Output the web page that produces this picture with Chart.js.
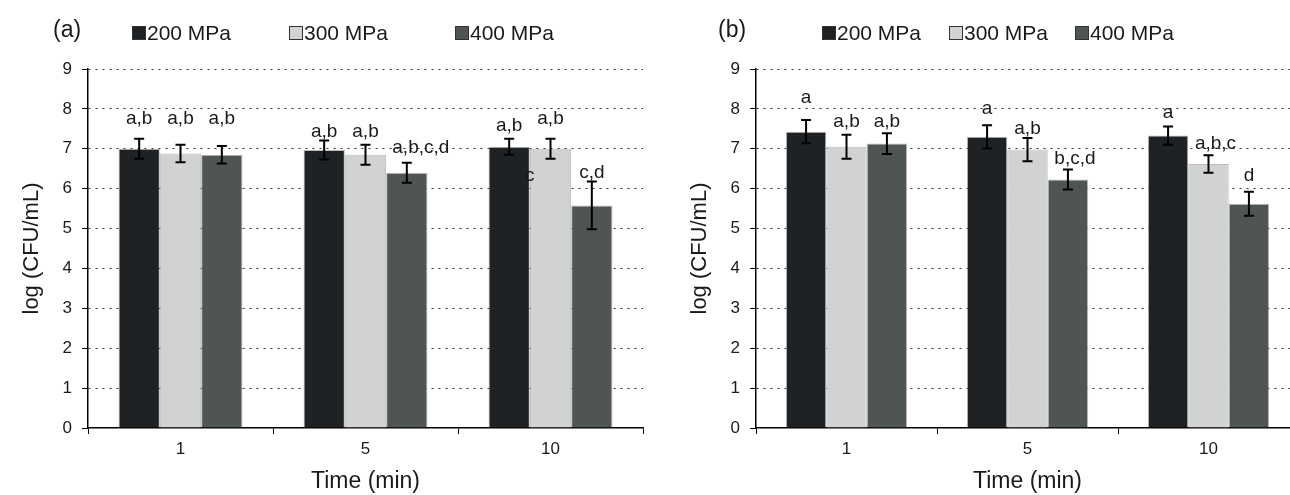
<!DOCTYPE html>
<html>
<head>
<meta charset="utf-8">
<script src="https://cdn.jsdelivr.net/npm/chart.js@4.4.0/dist/chart.umd.min.js"></script>
<style>
html, body { margin: 0; padding: 0; background: #fff; overflow: hidden; }
body { width: 1290px; height: 495px; position: relative; }
canvas { position: absolute; top: 0; }
#chartA { left: 0; }
#chartB { left: 645px; }
</style>
</head>
<body>
<canvas id="chartA" width="645" height="495"></canvas>
<canvas id="chartB" width="660" height="495"></canvas>
<script>
// Categories
const times = ['1', '5', '10'];
const pressures = ['200 MPa', '300 MPa', '400 MPa'];

// Panel (a) - log (CFU/mL)
const meanA200 = [7.00, 6.97, 7.05];
const meanA300 = [6.88, 6.85, 7.00];
const meanA400 = [6.85, 6.40, 5.58];
const errA200 = [0.25, 0.24, 0.20];
const errA300 = [0.22, 0.25, 0.25];
const errA400 = [0.22, 0.25, 0.60];
const lettersA200 = ['a,b', 'a,b', 'a,b'];
const lettersA300 = ['a,b', 'a,b', 'a,b'];
const lettersA400 = ['a,b', 'a,b,c,d', 'c,d'];
// height (log units) where each letter group sits
const letterYA200 = [7.75, 7.43, 7.58];
const letterYA300 = [7.75, 7.43, 7.75];
const letterYA400 = [7.75, 7.03, 6.40];
// stray "c" between 200 and 300 MPa bars at 10 min
const strayA = { text: 'c', series: 1, cat: 2, y: 6.33 };

// Panel (b)
const meanB200 = [7.43, 7.30, 7.33];
const meanB300 = [7.05, 6.98, 6.62];
const meanB400 = [7.13, 6.23, 5.62];
const errB200 = [0.29, 0.29, 0.23];
const errB300 = [0.30, 0.29, 0.22];
const errB400 = [0.26, 0.25, 0.30];
const lettersB200 = ['a', 'a', 'a'];
const lettersB300 = ['a,b', 'a,b', 'a,b,c'];
const lettersB400 = ['a,b', 'b,c,d', 'd'];
const letterYB200 = [8.28, 8.00, 7.90];
const letterYB300 = [7.68, 7.50, 7.12];
const letterYB400 = [7.68, 6.75, 6.33];

const yTicks = [0, 1, 2, 3, 4, 5, 6, 7, 8, 9];

const barColors = ['#1e2224', '#d1d3d2', '#4f5454'];
const FONT = "'Liberation Sans', Arial, sans-serif";
const TEXT = '#1a1a1a';

// error bars + letters
const errorBarPlugin = {
    id: 'errorBars',
    afterDatasetsDraw(chart, args, opts) {
        const ctx = chart.ctx;
        const yScale = chart.scales.y;
        ctx.save();
        chart.data.datasets.forEach((ds, i) => {
            const meta = chart.getDatasetMeta(i);
            meta.data.forEach((bar, j) => {
                const v = ds.data[j];
                const e = ds.errors[j];
                const yTop = yScale.getPixelForValue(v + e);
                const yBot = yScale.getPixelForValue(v - e);
                ctx.strokeStyle = '#000';
                ctx.lineWidth = 2;
                ctx.beginPath();
                ctx.moveTo(bar.x, yTop); ctx.lineTo(bar.x, yBot);
                ctx.moveTo(bar.x - 5, yTop); ctx.lineTo(bar.x + 5, yTop);
                ctx.moveTo(bar.x - 5, yBot); ctx.lineTo(bar.x + 5, yBot);
                ctx.stroke();

                // longer letter groups sit a bit right of the bar centre
                const txt = ds.letters[j];
                const shift = txt.length > 3 ? (txt.length - 3) * 3.5 : 0;
                ctx.fillStyle = TEXT;
                ctx.font = '19px ' + FONT;
                ctx.textAlign = 'center';
                ctx.textBaseline = 'middle';
                ctx.fillText(txt, bar.x + shift, yScale.getPixelForValue(ds.letterY[j]));
            });
        });
        const stray = opts.stray;
        if (stray) {
            const bar = chart.getDatasetMeta(stray.series).data[stray.cat];
            ctx.fillText(stray.text, bar.x - bar.width / 2, yScale.getPixelForValue(stray.y));
        }
        ctx.restore();
    }
};

// panel label and legend row
const topLegendPlugin = {
    id: 'topLegend',
    afterDraw(chart, args, opts) {
        const ctx = chart.ctx;
        ctx.save();
        ctx.fillStyle = TEXT;
        ctx.textBaseline = 'middle';
        ctx.textAlign = 'left';
        ctx.font = '23px ' + FONT;
        ctx.fillText(opts.panel, opts.panelX, 31);
        ctx.font = '21px ' + FONT;
        chart.data.datasets.forEach((ds, i) => {
            const x = opts.itemX[i];
            ctx.fillStyle = ds.backgroundColor;
            ctx.fillRect(x + 0.5, 26.5, 13, 13);
            ctx.strokeStyle = '#333';
            ctx.lineWidth = 1;
            ctx.strokeRect(x + 0.5, 26.5, 13, 13);
            ctx.fillStyle = TEXT;
            ctx.fillText(ds.label, x + 15, 34);
        });
        ctx.restore();
    }
};

function makeDatasets(means, errs, letters, letterYs) {
    return pressures.map((p, i) => ({
        label: p,
        data: means[i],
        errors: errs[i],
        letters: letters[i],
        letterY: letterYs[i],
        backgroundColor: barColors[i],
        borderColor: 'rgba(140,140,140,0.6)',
        borderWidth: 1,
        categoryPercentage: 0.67,
        barPercentage: 1.0
    }));
}

function createPanel(canvasId, datasets, cfg) {
    const ctx = document.getElementById(canvasId).getContext('2d');
    return new Chart(ctx, {
        type: 'bar',
        data: { labels: times, datasets: datasets },
        options: {
            responsive: false,
            animation: false,
            devicePixelRatio: 1,
            layout: { padding: { top: 69, right: cfg.padRight, left: 0, bottom: 0 } },
            plugins: {
                legend: { display: false },
                tooltip: { enabled: false },
                errorBars: { stray: cfg.stray },
                topLegend: { panel: cfg.panel, panelX: cfg.panelX, itemX: cfg.itemX }
            },
            scales: {
                x: {
                    afterFit: function (scale) { scale.height = 67; },
                    grid: {
                        display: true,
                        drawOnChartArea: false,
                        drawTicks: true,
                        tickLength: 6,
                        color: '#000',
                        lineWidth: 1
                    },
                    border: { display: true, color: '#000', width: 1.5 },
                    ticks: { color: TEXT, font: { family: FONT, size: 17 }, padding: 5 },
                    title: {
                        display: true,
                        text: 'Time (min)',
                        color: TEXT,
                        font: { family: FONT, size: 23, lineHeight: 1.0 },
                        padding: { top: 0, bottom: 2 }
                    }
                },
                y: {
                    min: 0,
                    max: 9,
                    afterFit: function (scale) { scale.width = cfg.yWidth; },
                    afterBuildTicks: function (scale) { scale.ticks = yTicks.map(v => ({ value: v })); },
                    grid: {
                        color: function (c) { return c.tick && c.tick.value === 0 ? 'rgba(0,0,0,0)' : '#333'; },
                        tickColor: '#000',
                        lineWidth: 1,
                        drawTicks: true,
                        tickLength: 6
                    },
                    border: { display: true, color: '#000', width: 1.5, dash: [2, 5] },
                    ticks: { color: TEXT, font: { family: FONT, size: 17 }, padding: 10 },
                    title: {
                        display: true,
                        text: 'log (CFU/mL)',
                        color: TEXT,
                        font: { family: FONT, size: 22, lineHeight: 1.2 },
                        padding: { top: cfg.yTitlePad, bottom: 0 }
                    }
                }
            }
        },
        plugins: [errorBarPlugin, topLegendPlugin]
    });
}

window.addEventListener('load', function () {
    createPanel('chartA',
        makeDatasets([meanA200, meanA300, meanA400], [errA200, errA300, errA400],
            [lettersA200, lettersA300, lettersA400], [letterYA200, letterYA300, letterYA400]),
        { padRight: 2, yWidth: 88, yTitlePad: 19, panel: '(a)', panelX: 53, itemX: [132, 289, 455], stray: strayA });

    createPanel('chartB',
        makeDatasets([meanB200, meanB300, meanB400], [errB200, errB300, errB400],
            [lettersB200, lettersB300, lettersB400], [letterYB200, letterYB300, letterYB400]),
        { padRight: 6, yWidth: 111, yTitlePad: 42, panel: '(b)', panelX: 73, itemX: [177, 304, 430], stray: null });
});
</script>
</body>
</html>
